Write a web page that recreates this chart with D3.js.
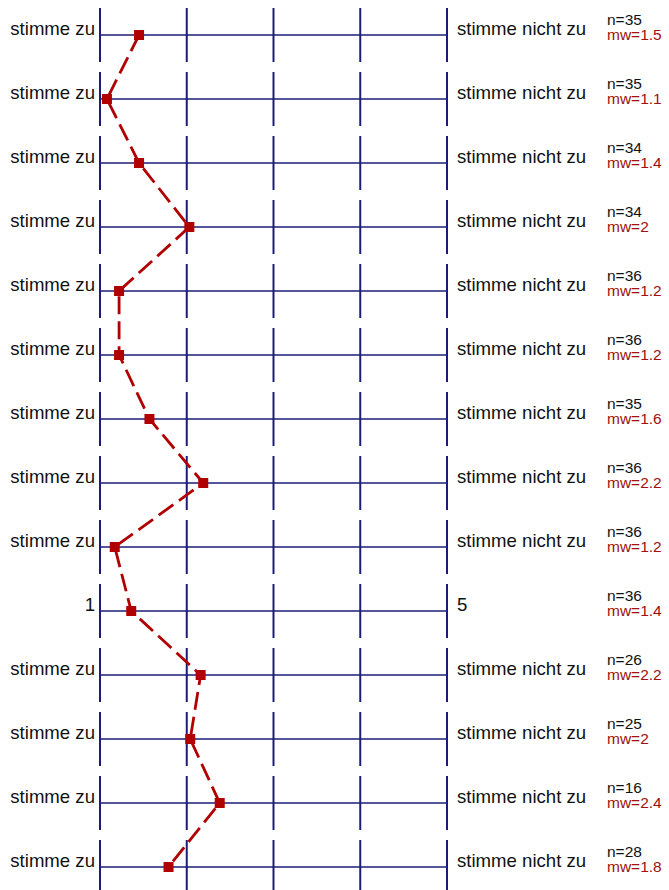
<!DOCTYPE html>
<html>
<head>
<meta charset="utf-8">
<script src="https://cdn.jsdelivr.net/npm/d3@7"></script>
<style>
  body { margin: 0; background: #fff; }
  svg { display: block; font-family: "Liberation Sans", Arial, sans-serif; }
</style>
</head>
<body>
<div id="chart"></div>
<script>
// Data
const leftLabels = ["stimme zu", "stimme zu", "stimme zu", "stimme zu", "stimme zu", "stimme zu", "stimme zu",
    "stimme zu", "stimme zu", "1", "stimme zu", "stimme zu", "stimme zu", "stimme zu"];
const rightLabels = ["stimme nicht zu", "stimme nicht zu", "stimme nicht zu", "stimme nicht zu", "stimme nicht zu",
    "stimme nicht zu", "stimme nicht zu", "stimme nicht zu", "stimme nicht zu", "5", "stimme nicht zu",
    "stimme nicht zu", "stimme nicht zu", "stimme nicht zu"];
const nValues = [35, 35, 34, 34, 36, 36, 35, 36, 36, 36, 26, 25, 16, 28];
const mwLabels = ["1.5", "1.1", "1.4", "2", "1.2", "1.2", "1.6", "2.2", "1.2", "1.4", "2.2", "2", "2.4", "1.8"];
const means = [1.45, 1.08, 1.45, 2.03, 1.22, 1.22, 1.57, 2.19, 1.17, 1.36, 2.16, 2.04, 2.38, 1.79];
const scaleTicks = [1, 2, 3, 4, 5];

const width = 669;
const height = 890;
const navy = "#1c1c78";
const red = "#b00000";

const svg = d3.select("#chart")
    .append("svg")
    .attr("width", width)
    .attr("height", height);

// Scales
const x = d3.scaleLinear().domain([1, 5]).range([100, 447]);
const y = d3.scaleLinear().domain([0, means.length - 1]).range([35, 867]);

const rows = svg.selectAll("g.row")
    .data(means)
    .join("g")
    .attr("class", "row")
    .attr("transform", (d, i) => `translate(0,${y(i)})`);

// Horizontal scale line
rows.append("line")
    .attr("x1", x(1))
    .attr("x2", x(5))
    .attr("stroke", navy)
    .attr("stroke-width", 1.5);

// Tick marks for each scale point
rows.selectAll("line.tick")
    .data(scaleTicks)
    .join("line")
    .attr("class", "tick")
    .attr("x1", d => x(d))
    .attr("x2", d => x(d))
    .attr("y1", -27)
    .attr("y2", 27)
    .attr("stroke", navy)
    .attr("stroke-width", 2);

// Labels
rows.append("text")
    .attr("x", 95)
    .attr("y", 0)
    .attr("text-anchor", "end")
    .attr("font-size", 18.6)
    .attr("fill", "#111")
    .text((d, i) => leftLabels[i]);

rows.append("text")
    .attr("x", 457)
    .attr("y", 0)
    .attr("font-size", 18.6)
    .attr("fill", "#111")
    .text((d, i) => rightLabels[i]);

rows.append("text")
    .attr("x", 607)
    .attr("y", -10.5)
    .attr("font-size", 15.5)
    .attr("fill", "#111")
    .text((d, i) => "n=" + nValues[i]);

rows.append("text")
    .attr("x", 607)
    .attr("y", 5)
    .attr("font-size", 15.5)
    .attr("fill", "#a01010")
    .text((d, i) => "mw=" + mwLabels[i]);

// Profile line through means
const line = d3.line()
    .x(d => x(d))
    .y((d, i) => y(i));

svg.append("path")
    .datum(means)
    .attr("d", line)
    .attr("fill", "none")
    .attr("stroke", red)
    .attr("stroke-width", 2.8)
    .attr("stroke-dasharray", "18,7");

svg.selectAll("rect.marker")
    .data(means)
    .join("rect")
    .attr("class", "marker")
    .attr("x", d => x(d) - 5)
    .attr("y", (d, i) => y(i) - 5)
    .attr("width", 10)
    .attr("height", 10)
    .attr("fill", red);
</script>
</body>
</html>
